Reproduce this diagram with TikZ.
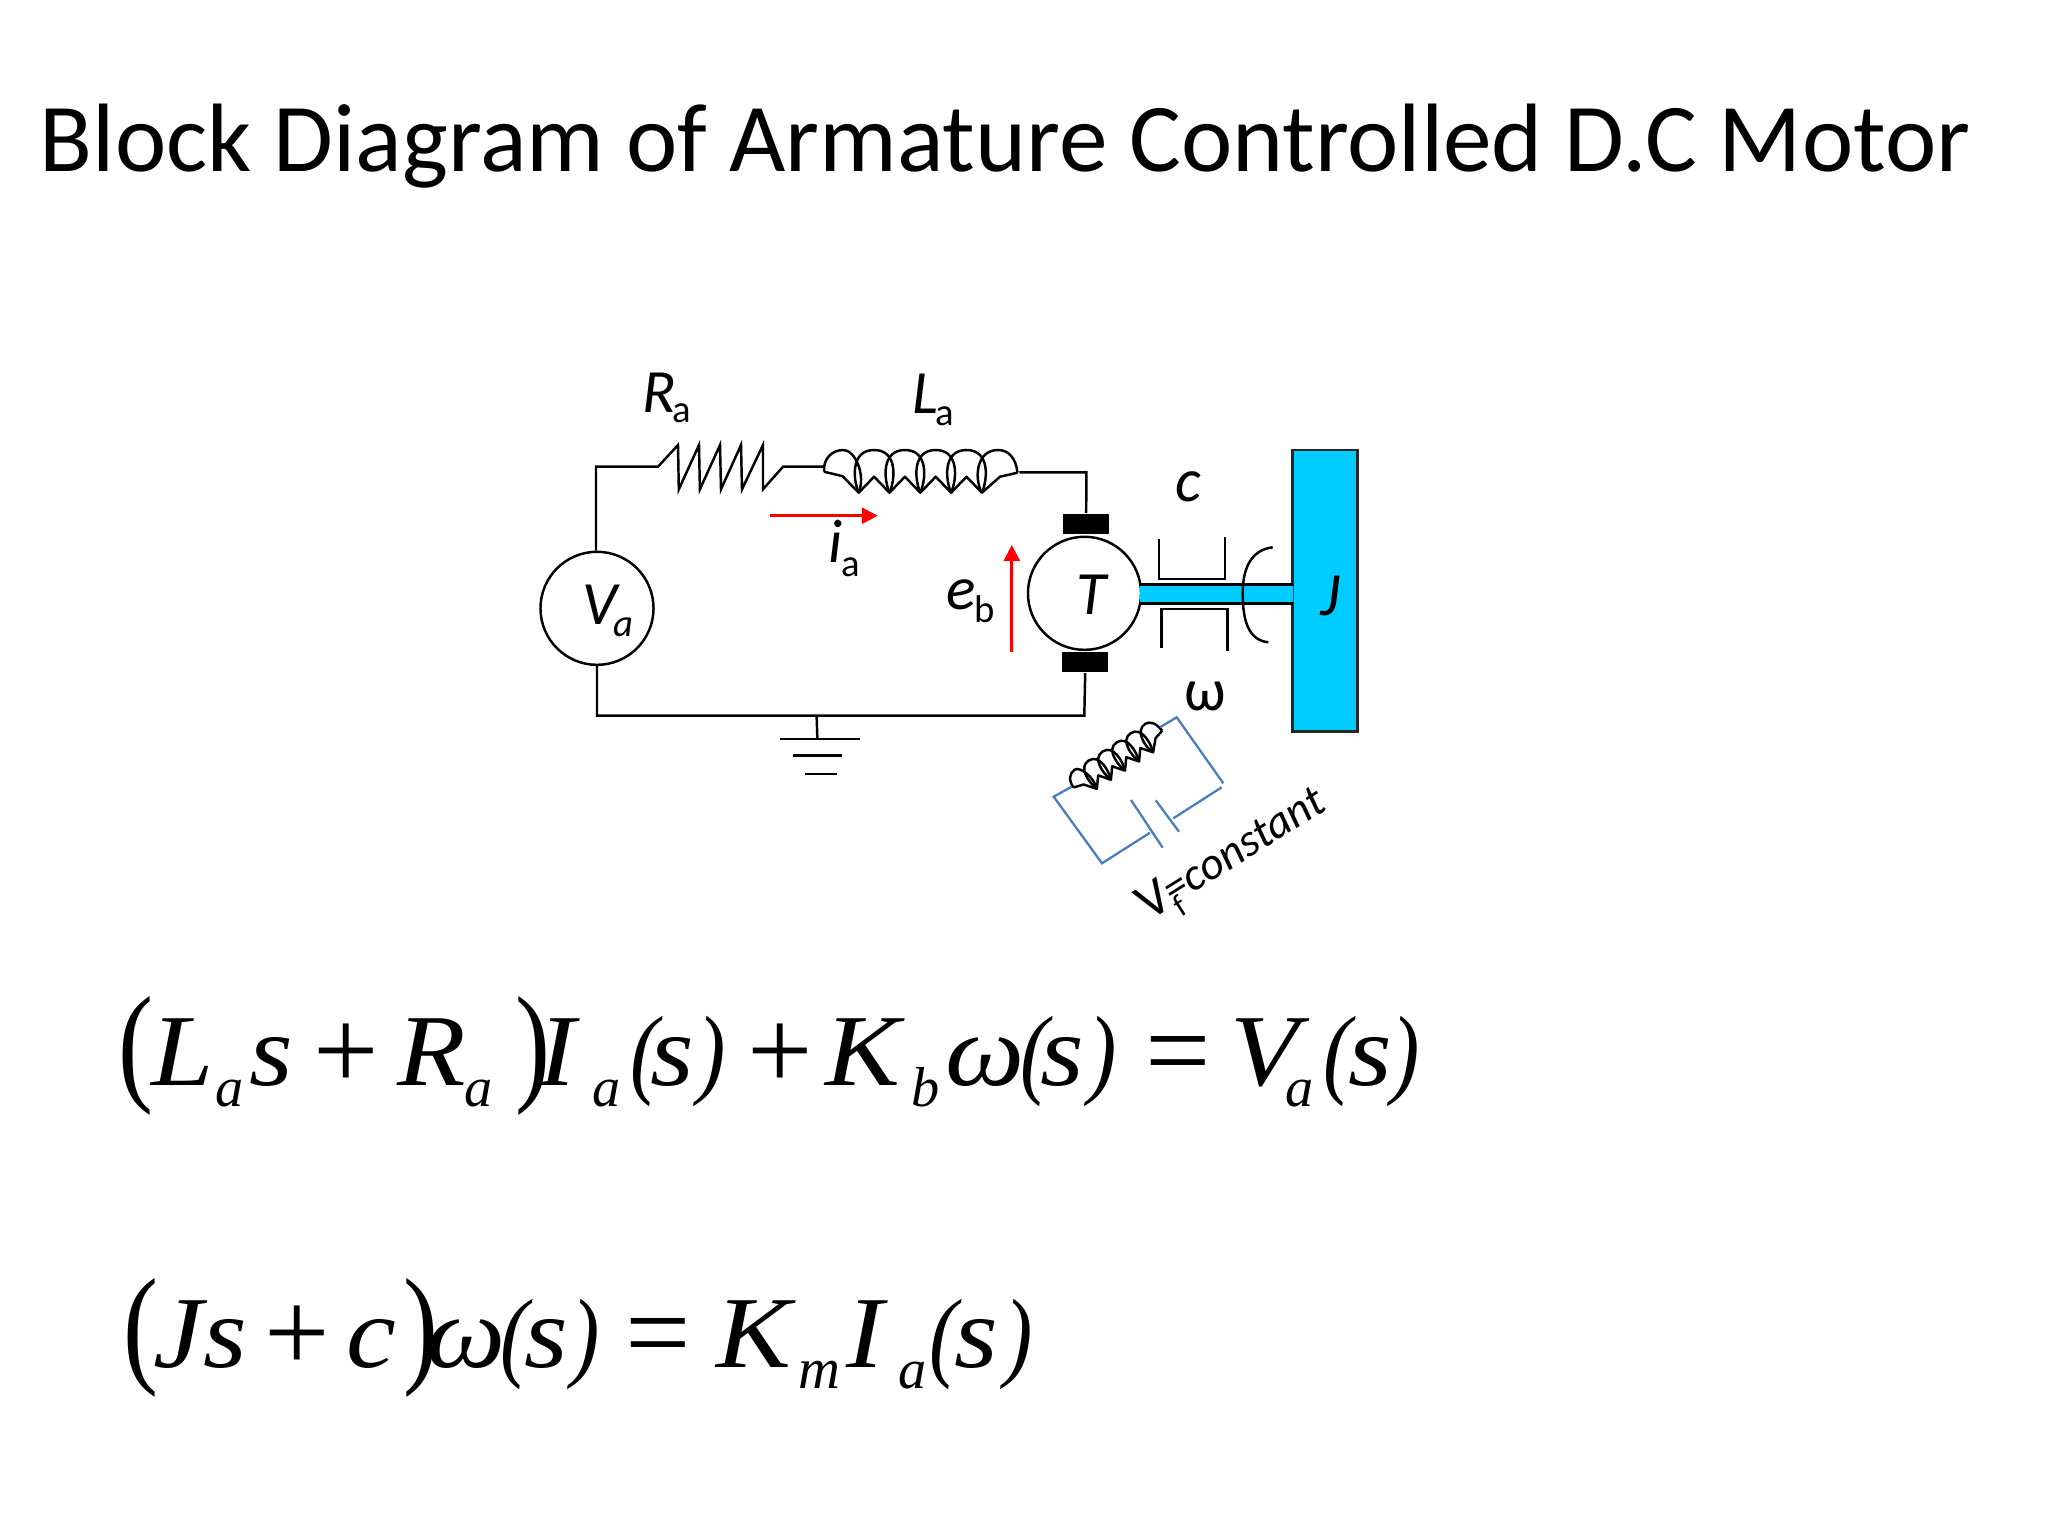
\documentclass[tikz,border=0pt]{standalone}
\usepackage{fontspec}
\usepackage{graphicx}
\setmainfont{Carlito}
\newfontfamily\tms{Liberation Serif}
\usetikzlibrary{arrows.meta}
\definecolor{shaftblue}{HTML}{00CCFF}
\definecolor{fieldblue}{HTML}{4A7EBB}
\newcounter{glyphno}
\newcommand\fsz[1]{\fontsize{#1}{#1}\selectfont}
% plain glyph
\newcommand\eqg[4]{\stepcounter{glyphno}\node[lbl] (g\arabic{glyphno}) at (#1,#2) {\fsz{#3}\tms #4};}
% main-size letter, widened as in the picture
\newcommand\eql[3]{\stepcounter{glyphno}\node[lbl] (g\arabic{glyphno}) at (#1,#2) {\scalebox{1.1}[1]{\fsz{29}\tms\itshape #3}};}
% big thin bracket
\newcommand\eqb[3]{\stepcounter{glyphno}\node[lbl] (g\arabic{glyphno}) at (#1,#2) {\scalebox{.8}[1]{\fsz{37.3}\tms #3}};}
% small bracket
\newcommand\eqp[3]{\stepcounter{glyphno}\node[lbl] (g\arabic{glyphno}) at (#1,#2) {\scalebox{.85}[1]{\fsz{28.4}\tms\itshape #3}};}
\newcommand\coilshape{%
  \draw[wire,line join=round] (0,5) -- (18.6,9.5) -- (34.7,26) -- (50.1,10) -- (65.5,26) -- (80.9,10) -- (96.3,26) -- (111.7,10) -- (127.1,26) -- (142.5,10) -- (157.9,26) -- (176,10) -- (193.5,6);
  \draw[wire] (0,5) .. controls (-1,-8) and (8,-16.7) .. (19.4,-16.7) .. controls (31,-16.7) and (42,8) .. (34.7,26);
  \foreach \b in {34.7,65.5,96.3,127.1}{
    \draw[wire] (\b,26) .. controls (\b-6,12) and (\b-8,-16.7) .. (\b+15.4,-16.7) .. controls (\b+38.8,-16.7) and (\b+36.8,12) .. (\b+30.8,26);
  }
  \draw[wire] (157.9,26) .. controls (150,12) and (152,-16.7) .. (174,-16.7) .. controls (185,-16.7) and (192,-8) .. (193.5,6);
}
\tikzset{
  wire/.style={draw=black,line width=.7pt},
  lbl/.style={anchor=base west,inner sep=0pt,outer sep=0pt},
  redarrow/.style={draw=red,line width=.75pt,-{Triangle[length=1.6mm,width=1.6mm]},red},
  fieldwire/.style={draw=fieldblue,line width=.65pt},
  ring/.style={circle,draw=black,line width=.7pt,inner sep=0pt,minimum size=1.13cm},
  brush/.style={fill=black,draw=none,inner sep=0pt,minimum width=.465cm,minimum height=.206cm},
}
\begin{document}
\begin{tikzpicture}[x=0.01cm,y=-0.01cm]
\useasboundingbox (0,0) rectangle (2048,1536);
\fill[white] (0,0) rectangle (2048,1536);
% title
\node[lbl] (title) at (40,171) {\fsz{27.65}Block Diagram of Armature Controlled D.C Motor};
% main nodes
\node[ring] (Va) at (597,608.3) {};
\node[ring] (motor) at (1084.5,593.3) {};
\node[brush] (bt) at (1086.2,524) {};
\node[brush] (bb) at (1085.2,662) {};
\node[draw=black!85,line width=.75pt,fill=shaftblue,inner sep=0pt,minimum width=.65cm,minimum height=2.817cm] (J) at (1325.2,590.8) {};
% shaft
\path[fill=shaftblue] (1140,584.3) rectangle (1292.7,603.3);
\draw[wire] (1139,584.3) -- (1292.7,584.3) (1139,603.3) -- (1292.7,603.3);
% circuit corners
\coordinate (tl) at (596,466.7);
\coordinate (r0) at (658,466.7);
\coordinate (r1) at (783,466.7);
\coordinate (l0) at (824,466.7);
\coordinate (l1) at (1019.4,472.3);
\coordinate (tr) at (1086.4,472.3);
\coordinate (br) at (1084.3,715.7);
\coordinate (bl) at (597,715.7);
\coordinate (gtop) at (816.6,715.7);
\coordinate (g0) at (817.4,739.3);
\draw[wire,line join=miter] (tl |- Va.north) -- (tl) -- (r0) -- (678,445) -- (678.8,489.3) -- (699,445) -- (699.9,489.3) -- (720,445) -- (721,489.3) -- (741,445) -- (742,489.3) -- (763,445) -- (763,489.3) -- (r1) -- (l0);
\draw[wire] (l1) -- (tr) -- (bt.north);
\draw[wire] (bb.south) -- (br) -- (bl) -- (Va.south);
\draw[wire] (gtop) -- (g0);
\draw[wire] (780,739) -- (860,739) (793,755.7) -- (842,755.7) (805,774) -- (836.5,774);
\begin{scope}[shift={(824,466.7)}]\coilshape\end{scope}
% damper
\draw[wire] (1159,539) -- (1159,579) -- (1225,579) -- (1225,537.3);
\draw[wire] (1161.3,648.3) -- (1161.3,609) -- (1227.3,609) -- (1227.3,650.7);
\draw[wire] (1272.7,547.3) .. controls (1250,550) and (1242.7,570) .. (1242.7,593.3) .. controls (1242.7,620) and (1248,640) .. (1268.3,642.3);
% red arrows
\coordinate (ia0) at (770.3,515.7);
\coordinate (ia1) at (877.8,515.7);
\coordinate (eb0) at (1011.8,651.7);
\coordinate (eb1) at (1011.8,545);
\draw[redarrow] (ia0) -- (ia1);
\draw[redarrow] (eb0) -- (eb1);
% field circuit
\begin{scope}[shift={(1071.7,784.7)},rotate=33,xscale=.544,yscale=.66]\coilshape\end{scope}
\draw[fieldwire] (1071.7,786.7) -- (1053.7,796.7) -- (1102,863.3) -- (1150,832.7);
\draw[fieldwire] (1131,800) -- (1162.7,847.7);
\draw[fieldwire] (1155.7,800.3) -- (1179,831.7);
\draw[fieldwire] (1173.3,818.3) -- (1221.7,787.3);
\draw[fieldwire] (1223.3,783.3) -- (1176.7,717.3) -- (1160,727.3);
% labels
\node[lbl] (Rl) at (642.5,412) {\fsz{17.5}\itshape R};
\node[lbl] (Rs) at (672,422) {\fsz{11}a};
\node[lbl] (Ll) at (912.3,413) {\fsz{17.5}\itshape L};
\node[lbl] (Ls) at (935,425) {\fsz{11}a};
\node[lbl] (il) at (828,562) {\fsz{17.5}\itshape i};
\node[lbl] (is) at (841,576) {\fsz{11}a};
\node[lbl] (el) at (946.6,609) {\fsz{17.5}\itshape e};
\node[lbl] (es) at (974,622) {\fsz{11}b};
\node[lbl] (Vl) at (582,624) {\fsz{17.5}\itshape V};
\node[lbl] (Vs) at (613,636) {\fsz{11}\itshape a};
\node[lbl] (Tl) at (1076,614) {\fsz{17.5}\itshape T};
\node[lbl] (cl) at (1175,501) {\fsz{17.5}\itshape c};
\node[lbl] (wl) at (1184,710) {\fsz{17}ω};
\node[lbl] (Jl) at (1320,615) {\fsz{17.5}\itshape J};
\node[lbl,rotate=32] (vf) at (1149,921) {\fsz{15}V\raisebox{-4pt}{\fsz{9}f}\hspace{-3pt}\fsz{13}\itshape =constant};
% equation 1
\eqb{118}{1087}{(}
\eql{151}{1085}{L}
\eqg{215}{1106}{16}{\itshape a}
\eql{249}{1085}{s}
\eqg{313}{1089}{33}{+}
\eql{397}{1085}{R}
\eqg{464}{1106}{16}{\itshape a}
\eqb{515}{1087}{)}
\eql{538}{1085}{I}
\eqg{592}{1106}{16}{\itshape a}
\eqp{630}{1085}{(}
\eql{650}{1085}{s}
\eqp{697}{1085}{)}
\eqg{747}{1089}{33}{+}
\eql{825}{1085}{K}
\eqg{911}{1106}{16}{\itshape b}
\eql{945}{1085}{ω}
\eqp{1020}{1085}{(}
\eql{1040}{1085}{s}
\eqp{1088}{1085}{)}
\eqg{1145}{1089}{33}{=}
\eql{1230}{1085}{V}
\eqg{1285.6}{1106}{16}{\itshape a}
\eqp{1323}{1085}{(}
\eql{1348}{1085}{s}
\eqp{1391}{1085}{)}
% equation 2
\eqb{123}{1369}{(}
\eql{153}{1367}{J}
\eql{203}{1367}{s}
\eqg{264}{1371}{33}{+}
\eql{346}{1367}{c}
\eqb{403}{1369}{)}
\eql{426}{1367}{ω}
\eqp{500}{1368}{(}
\eql{524}{1367}{s}
\eqp{571}{1368}{)}
\eqg{625}{1371}{33}{=}
\eql{716}{1367}{K}
\eqg{798}{1388}{16.5}{\itshape m}
\eql{846}{1367}{I}
\eqg{898}{1388}{16}{\itshape a}
\eqp{929}{1368}{(}
\eql{954}{1367}{s}
\eqp{1004}{1368}{)}
\end{tikzpicture}
\end{document}
